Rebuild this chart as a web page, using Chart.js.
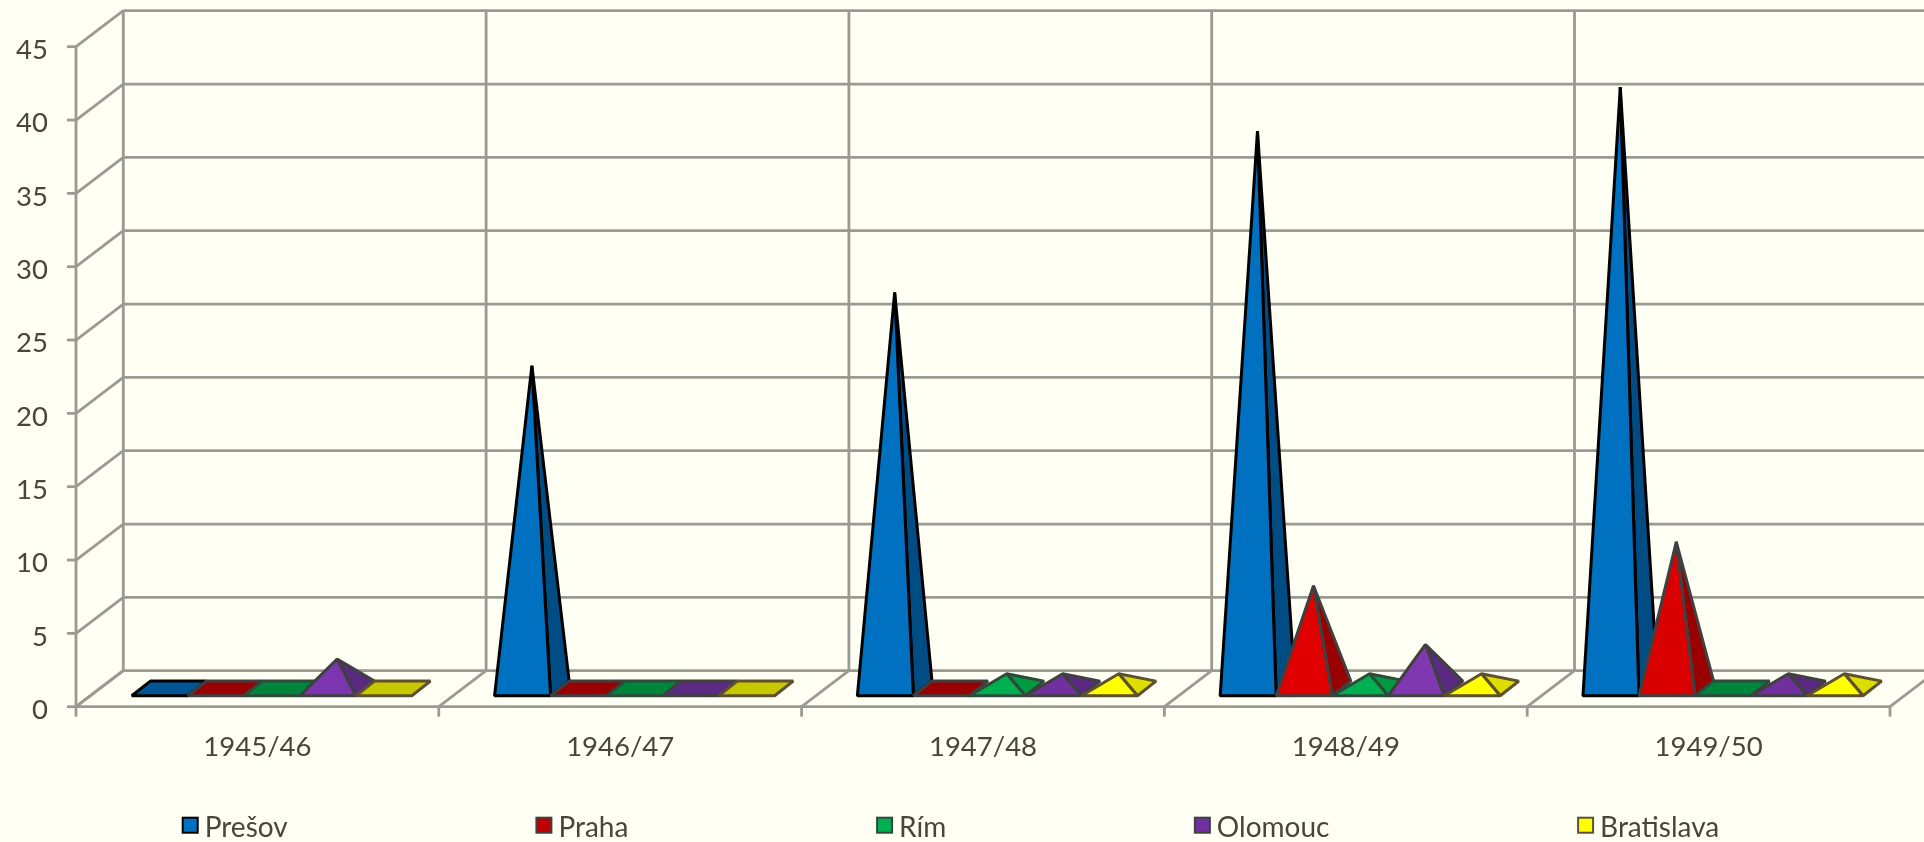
<!DOCTYPE html>
<html>
<head>
<meta charset="utf-8">
<title>Chart</title>
<script src="https://cdn.jsdelivr.net/npm/chart.js@4"></script>
<style>
  html, body { margin: 0; padding: 0; background: #FFFFF4; overflow: hidden; }
  canvas { display: block; }
</style>
</head>
<body>
<canvas id="chart" width="1924" height="842"></canvas>
<script>
const categories = ['1945/46', '1946/47', '1947/48', '1948/49', '1949/50'];
const seriesNames = ['Prešov', 'Praha', 'Rím', 'Olomouc', 'Bratislava'];
const presov = [0, 22, 27, 38, 41];
const praha = [0, 0, 0, 7, 10];
const rim = [0, 0, 1, 1, 0];
const olomouc = [2, 0, 1, 3, 1];
const bratislava = [0, 0, 1, 1, 1];
const seriesValues = [presov, praha, rim, olomouc, bratislava];

// colours of each series: legend box, lit face (per category where it varies), shaded face, flat base, outline
const legendColors = ['#0070C0', '#C00000', '#00B050', '#7030A0', '#FFFF00'];
const frontColors = [
    '#0070C0',
    ['#DE0000', '#DE0000', '#DE0000', '#E00000', '#DA0000'],
    '#00B050',
    ['#7B35AE', '#7030A0', '#7030A0', '#8038B0', '#7030A0'],
    '#FFFF00'
];
const sideColors = ['#004D85', '#9A0000', '#009A40', '#5A2A82', '#DDDD00'];
const flatColors = ['#005595', '#990000', '#00863C', '#5A2A85', '#C8C800'];
const edgeColors = ['#000000', '#404040', '#2F4A3A', '#404040', '#5F5030'];

const gridColor = '#9A9A95';
const textColor = '#4A443C';
const fontFamily = 'Lato';
const fontSize = 27.5;
const legendFontSize = 28;

// 3D offsets, px
const wallDX = 47.3, wallDY = 36;
const barLiftX = 14.4, barLiftY = 10.9;
const barDX = 18.6, barDY = 14.7;

const drawPyramids = (ctx, meta) => {
    const s = meta.index;
    meta.data.forEach((bar) => {
        const left = bar.x - bar.width / 2 + barLiftX;
        const right = left + bar.width;
        const baseY = bar.base - barLiftY;
        const flat = Math.abs(bar.base - bar.y) < 0.5;

        ctx.save();
        ctx.lineWidth = 3;
        ctx.lineJoin = 'bevel';
        ctx.strokeStyle = edgeColors[s];

        const poly = (pts, fill) => {
            ctx.beginPath();
            pts.forEach((p, i) => i ? ctx.lineTo(p[0], p[1]) : ctx.moveTo(p[0], p[1]));
            ctx.closePath();
            ctx.fillStyle = fill;
            ctx.fill();
            ctx.stroke();
        };

        if (flat) {
            poly([[left, baseY], [right, baseY], [right + barDX, baseY - barDY], [left + barDX, baseY - barDY]], flatColors[s]);
        } else {
            const apex = [bar.x + barLiftX + barDX / 2, bar.y - barLiftY - barDY / 2];
            poly([[right, baseY], [right + barDX, baseY - barDY], apex], sideColors[s]);
            poly([[left, baseY], [right, baseY], apex], bar.options.backgroundColor);
        }
        ctx.restore();
    });
};

class PyramidController extends Chart.BarController {
    static id = 'pyramid';
    static defaults = Chart.BarController.defaults;
    static overrides = Chart.BarController.overrides;

    draw() {
        // the chart walks datasets last to first, but later series must paint over earlier ones
        if (this.index !== 0) return;
        this.chart.getSortedVisibleDatasetMetas().forEach((meta) => drawPyramids(this.chart.ctx, meta));
    }
}
Chart.register(PyramidController);

// walls, floor and axes of the 3D box
const wallsPlugin = {
    id: 'walls',
    beforeDatasetsDraw(chart) {
        const ctx = chart.ctx;
        const x = chart.scales.x, y = chart.scales.y;
        const zeroY = y.getPixelForValue(0);
        const line = (x1, y1, x2, y2) => {
            ctx.beginPath();
            ctx.moveTo(x1, y1);
            ctx.lineTo(x2, y2);
            ctx.stroke();
        };
        ctx.save();
        ctx.strokeStyle = gridColor;
        ctx.lineWidth = 2.8;
        y.ticks.forEach((t) => {
            const py = y.getPixelForValue(t.value);
            line(x.left - 9, py, x.left, py);
            line(x.left, py, x.left + wallDX, py - wallDY);
            line(x.left + wallDX, py - wallDY, chart.width, py - wallDY);
        });
        line(x.left, y.top, x.left, zeroY);
        line(x.left, zeroY, x.right, zeroY);
        for (let i = 0; i <= categories.length; i++) {
            const px = x.left + i * x.width / categories.length;
            line(px, zeroY, px, zeroY + 10);
            line(px, zeroY, px + wallDX, zeroY - wallDY);
            line(px + wallDX, zeroY - wallDY, px + wallDX, y.top - wallDY);
        }
        ctx.restore();
    }
};

const legendPlugin = {
    id: 'bottomLegend',
    afterDraw(chart) {
        const ctx = chart.ctx;
        const box = 15, textGap = 7, itemGap = 248.7;
        let px = 182.7;
        const py = 817.7;
        ctx.save();
        ctx.font = `${legendFontSize}px ${fontFamily}`;
        ctx.textBaseline = 'middle';
        seriesNames.forEach((name, i) => {
            ctx.fillStyle = legendColors[i];
            ctx.strokeStyle = edgeColors[i];
            ctx.lineWidth = 2;
            ctx.fillRect(px, py, box, box);
            ctx.strokeRect(px, py, box, box);
            ctx.fillStyle = textColor;
            ctx.fillText(name, px + box + textGap, py + 10);
            px += box + textGap + ctx.measureText(name).width + itemGap;
        });
        ctx.restore();
    }
};

new Chart(document.getElementById('chart'), {
    type: 'pyramid',
    data: {
        labels: categories,
        datasets: seriesValues.map((values, i) => ({
            label: seriesNames[i],
            data: values,
            backgroundColor: frontColors[i],
            borderColor: edgeColors[i],
            clip: false
        }))
    },
    plugins: [wallsPlugin, legendPlugin],
    options: {
        responsive: false,
        animation: false,
        categoryPercentage: 0.772,
        barPercentage: 1,
        layout: { padding: { top: 46.7, right: 34, bottom: 0, left: 0 } },
        plugins: {
            legend: { display: false },
            tooltip: { enabled: false }
        },
        scales: {
            x: {
                type: 'category',
                offset: true,
                grid: { display: false },
                border: { display: false },
                ticks: {
                    color: textColor,
                    font: { family: fontFamily, size: fontSize },
                    padding: 16,
                    maxRotation: 0
                },
                afterFit: (s) => { s.height = 135.3; }
            },
            y: {
                type: 'linear',
                min: 0,
                max: 45,
                grid: { display: false },
                border: { display: false },
                ticks: {
                    stepSize: 5,
                    color: textColor,
                    font: { family: fontFamily, size: fontSize },
                    padding: 20,
                    labelOffset: 3.5
                },
                afterFit: (s) => { s.width = 76; }
            }
        }
    }
});
</script>
</body>
</html>
